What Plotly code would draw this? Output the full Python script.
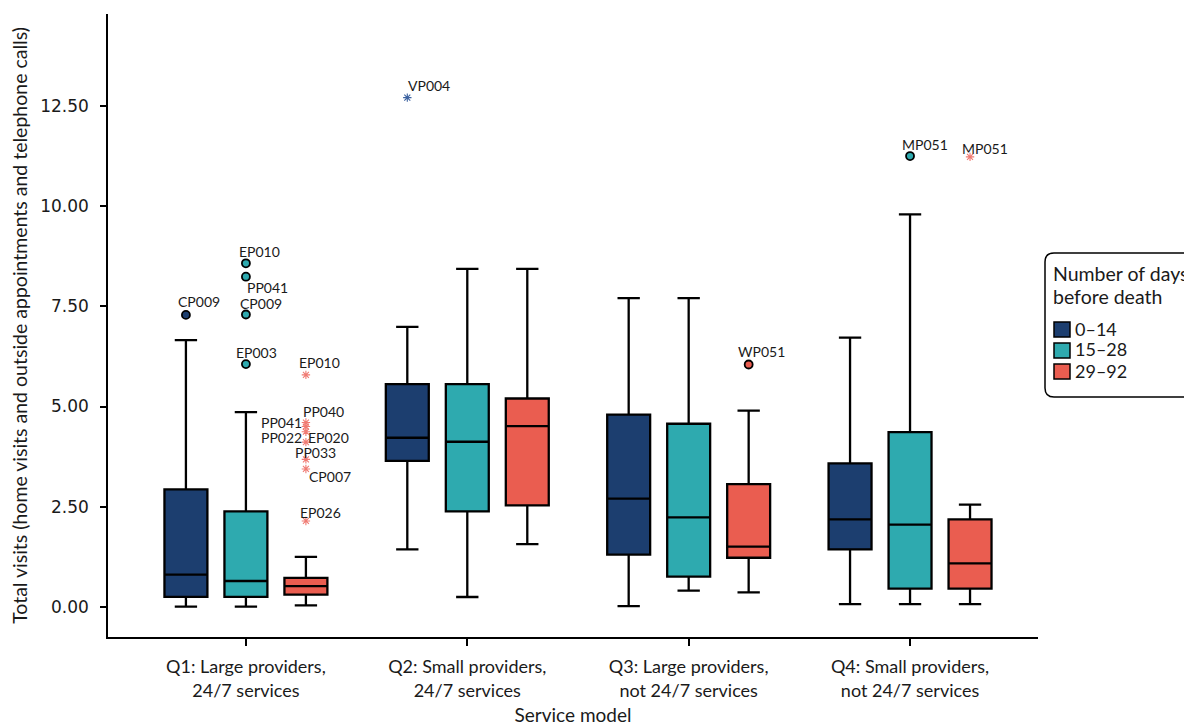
import plotly.graph_objects as go

# ---------------- data ----------------
categories = ["Q1: Large providers,<br>24/7 services",
              "Q2: Small providers,<br>24/7 services",
              "Q3: Large providers,<br>not 24/7 services",
              "Q4: Small providers,<br>not 24/7 services"]
series = ["0–14", "15–28", "29–92"]
colors = ["#1C3E6F", "#2EAAAF", "#EA5D50"]
asterisk_colors = ["#3C62A0", "#2EAAAF", "#F07A72"]

# per-series box statistics across the 4 categories
lowerfence = [[0.00, 1.43, 0.01, 0.06],
              [0.00, 0.24, 0.40, 0.06],
              [0.03, 1.56, 0.355, 0.06]]
q1 = [[0.245, 3.64, 1.30, 1.43],
      [0.245, 2.38, 0.75, 0.45],
      [0.30, 2.53, 1.22, 0.45]]
median = [[0.80, 4.22, 2.70, 2.18],
          [0.64, 4.12, 2.23, 2.05],
          [0.51, 4.51, 1.50, 1.08]]
q3 = [[2.93, 5.56, 4.80, 3.58],
      [2.38, 5.56, 4.57, 4.36],
      [0.72, 5.20, 3.06, 2.18]]
upperfence = [[6.66, 6.99, 7.71, 6.72],
              [4.86, 8.44, 7.71, 9.80],
              [1.24, 8.44, 4.90, 2.55]]

# outliers: series index, category index, value, label, kind ("o" outlier / "*" extreme)
out_series = [0, 0, 1, 1, 1, 1, 1, 2, 2, 2, 2, 2, 2, 2, 2, 2, 2]
out_cat = [0, 1, 0, 0, 0, 0, 3, 0, 0, 0, 0, 0, 0, 0, 0, 2, 3]
out_value = [7.29, 12.72, 8.58, 8.245, 7.30, 6.06, 11.26,
             5.79, 4.60, 4.50, 4.37, 4.11, 3.68, 3.44, 2.14, 6.05, 11.24]
out_label = ["CP009", "VP004", "EP010", "PP041", "CP009", "EP003", "MP051",
             "EP010", "PP040", "PP041", "PP022", "EP020", "PP033", "CP007", "EP026",
             "WP051", "MP051"]
out_kind = ["o", "*", "o", "o", "o", "o", "o",
            "*", "*", "*", "*", "*", "*", "*", "*", "o", "*"]
# label offsets in pixels (dx right, dy down) -- placement style only
label_dx = [13, 22, 14, 22, 15, 11, 15, 14, 18, -24, -24, 23, 10, 24, 15, 13, 15]
label_dy = [-13, -12, -12, 11, -11, -12, -12, -12, -11, -4, 6, -5, -7, 8, -8, -13, -8]

legend_title = ["Number of days", "before death"]
x_title = "Service model"
y_title = "Total visits (home visits and outside appointments and telephone calls)"
y_ticks = [0, 2.5, 5, 7.5, 10, 12.5]

# ---------------- layout geometry ----------------
FONT = "Lato, 'Open Sans', sans-serif"
TICKFONT = "'DejaVu Sans', sans-serif"
TXT = "#1a1a1a"
OFF = 8                      # page body margin
W_FIG, H_FIG = 1192 - OFF, 726 - OFF
ML, MT = 108 - OFF, 14 - OFF
PLOT_R, PLOT_B = 1038 - OFF, 637 - OFF
MR, MB = W_FIG - PLOT_R, H_FIG - PLOT_B
PW = W_FIG - ML - MR
PH = H_FIG - MT - MB
BOXGAP = 0.187
BOXGROUPGAP = 0.284
group_offset = 2 * 0.5 * (1 - BOXGAP) / 3


def px_x(p):
    return (p - OFF - ML) / PW


def px_y(p):
    return (MT + PH - (p - OFF)) / PH


fig = go.Figure()
cat_pos = list(range(len(categories)))

for k, name in enumerate(series):
    fig.add_trace(go.Box(
        x=cat_pos, q1=q1[k], median=median[k], q3=q3[k],
        lowerfence=lowerfence[k], upperfence=upperfence[k],
        name=name, fillcolor=colors[k],
        line=dict(color="black", width=2.3),
        whiskerwidth=0.52, boxpoints=False, showlegend=False,
        hoverinfo="y",
    ))

for k in range(len(series)):
    for kind in ["o", "*"]:
        idx = [i for i in range(len(out_value)) if out_series[i] == k and out_kind[i] == kind]
        if not idx:
            continue
        xs = [out_cat[i] + (k - 1) * group_offset for i in idx]
        ys = [out_value[i] for i in idx]
        if kind == "o":
            marker = dict(symbol="circle", size=8, color=colors[k],
                          line=dict(color="black", width=1.8))
        else:
            marker = dict(symbol="asterisk-open", size=7, color=asterisk_colors[k],
                          line=dict(color=asterisk_colors[k], width=1.1))
        fig.add_trace(go.Scatter(x=xs, y=ys, mode="markers", marker=marker,
                                 showlegend=False, hovertext=[out_label[i] for i in idx],
                                 hoverinfo="text+y"))

annotations = []
for i in range(len(out_value)):
    k = out_series[i]
    annotations.append(dict(
        x=out_cat[i] + (k - 1) * group_offset, y=out_value[i], xref="x", yref="y",
        text=out_label[i], showarrow=False, xanchor="center", yanchor="middle",
        xshift=label_dx[i], yshift=-label_dy[i],
        font=dict(family=FONT, size=14, color=TXT)))

# ---------------- manual legend (rounded box) ----------------
shapes = []
bx0, by0, by1, bx1, r = 1045, 253, 397, 1215, 9
path = (f"M {px_x(bx0 + r)},{px_y(by0)} L {px_x(bx1)},{px_y(by0)} "
        f"L {px_x(bx1)},{px_y(by1)} L {px_x(bx0 + r)},{px_y(by1)} "
        f"Q {px_x(bx0)},{px_y(by1)} {px_x(bx0)},{px_y(by1 - r)} "
        f"L {px_x(bx0)},{px_y(by0 + r)} "
        f"Q {px_x(bx0)},{px_y(by0)} {px_x(bx0 + r)},{px_y(by0)} Z")
shapes.append(dict(type="path", xref="paper", yref="paper", path=path,
                   line=dict(color="black", width=1.5), fillcolor="white", layer="below"))
for j, (line, cy) in enumerate(zip(legend_title, [273.5, 296])):
    annotations.append(dict(x=px_x(1051), y=px_y(cy), xref="paper", yref="paper",
                            text=line, showarrow=False, xanchor="left", yanchor="middle",
                            font=dict(family=FONT, size=19.5, color=TXT)))
item_y = [329.5, 350.5, 371.5]
for k, name in enumerate(series):
    cy = item_y[k]
    shapes.append(dict(type="rect", xref="paper", yref="paper",
                       x0=px_x(1054), x1=px_x(1070), y0=px_y(cy + 7.5), y1=px_y(cy - 7.5),
                       fillcolor=colors[k], line=dict(color="black", width=1.5)))
    annotations.append(dict(x=px_x(1073), y=px_y(cy - 1), xref="paper", yref="paper",
                            text=name, showarrow=False, xanchor="left", yanchor="middle",
                            font=dict(family=FONT, size=18, color=TXT)))

fig.update_layout(
    width=W_FIG, height=H_FIG,
    margin=dict(l=ML, r=MR, t=MT, b=MB, pad=0, autoexpand=False),
    paper_bgcolor="white", plot_bgcolor="white",
    boxmode="group", boxgap=BOXGAP, boxgroupgap=BOXGROUPGAP,
    showlegend=False,
    font=dict(family=FONT, color=TXT, size=16),
    shapes=shapes, annotations=annotations,
    xaxis=dict(range=[-0.623, 3.578], tickvals=cat_pos, ticktext=categories,
               showline=True, linecolor="black", linewidth=1.5, automargin=False,
               ticks="outside", ticklen=7, tickwidth=1.5, tickcolor="black",
               showgrid=False, zeroline=False, ticklabelstandoff=6,
               tickfont=dict(family=FONT, size=18, color=TXT),
               title=dict(text=x_title, standoff=15,
                          font=dict(family=FONT, size=19, color=TXT))),
    yaxis=dict(range=[-0.76, 14.81], tickvals=y_ticks, tickformat=".2f",
               showline=True, linecolor="black", linewidth=1.5, automargin=False,
               ticks="outside", ticklen=6, tickwidth=1.5, tickcolor="black",
               showgrid=False, zeroline=False, ticklabelstandoff=8,
               tickfont=dict(family=TICKFONT, size=17, color=TXT),
               title=dict(text=y_title, standoff=7,
                          font=dict(family=FONT, size=19.5, color=TXT))),
)

fig.write_html("out.html")
